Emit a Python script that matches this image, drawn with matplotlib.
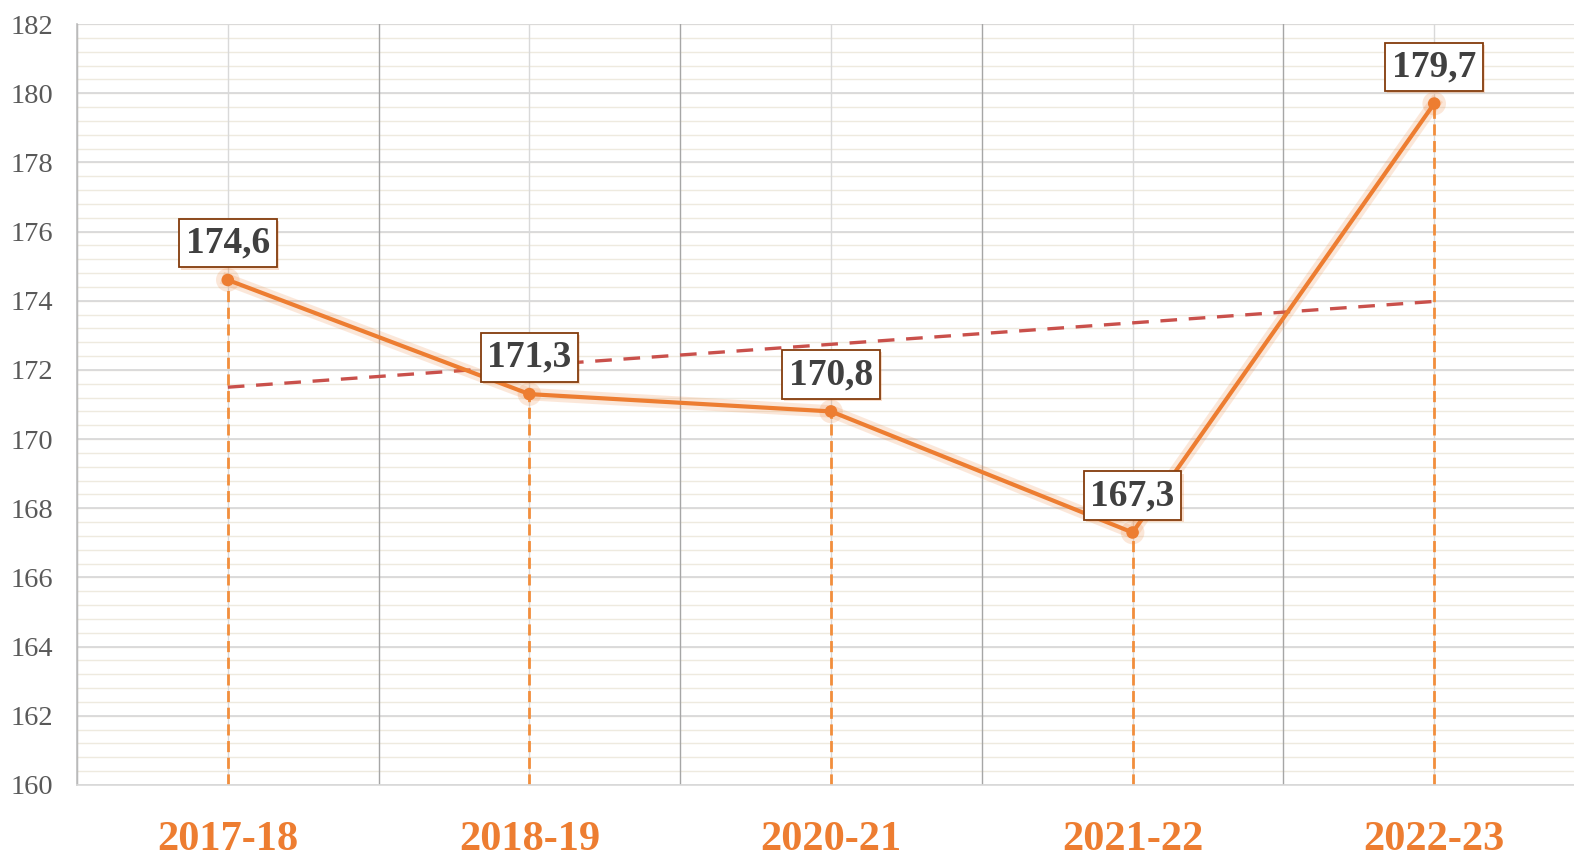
import matplotlib
matplotlib.use("Agg")
import matplotlib.pyplot as plt
import matplotlib.patheffects as pe
import numpy as np

categories = ["2017-18", "2018-19", "2020-21", "2021-22", "2022-23"]
values = [174.6, 171.3, 170.8, 167.3, 179.7]
labels = ["174,6", "171,3", "170,8", "167,3", "179,7"]
y_ticks = list(range(160, 183, 2))

ORANGE = "#ED7D31"
SERIF = ["Liberation Serif", "DejaVu Serif"]

W, H = 1574, 856
fig = plt.figure(figsize=(W / 100, H / 100), dpi=100)
left, right, top, bottom = 77, 1585, 24, 785
ax = fig.add_axes([left / W, 1 - bottom / H, (right - left) / W, (bottom - top) / H])

x = np.arange(len(categories))
ax.set_xlim(-0.5, len(categories) - 0.5)
ax.set_ylim(160, 182)

# minor horizontal grid
for yv in np.arange(160, 182.01, 0.4):
    ax.axhline(yv, color="#EEEADF", lw=1.0, zorder=0)
for yv in y_ticks:
    ax.axhline(yv, color="#D9D9D9", lw=1.3, zorder=0.5)
# vertical grid: centers lighter, boundaries darker
for xv in x:
    ax.axvline(xv, color="#D9D9D9", lw=1.0, zorder=0.6)
for xv in np.arange(-0.5, len(categories), 1.0):
    ax.axvline(xv, color="#A6A6A6", lw=1.0, zorder=0.7)

for s in ["top", "right"]:
    ax.spines[s].set_visible(False)
ax.spines["left"].set_color("#BFBFBF")
ax.spines["bottom"].set_color("#D9D9D9")
ax.spines["left"].set_linewidth(1.2)
ax.spines["bottom"].set_linewidth(1.2)

# drop lines
for xi, v in zip(x, values):
    ax.plot([xi, xi], [160, v], color="#F28E3C", lw=2.0, ls=(0, (4, 2)), zorder=2)

# trend line
k, b = np.polyfit(x, values, 1)
ax.plot([x[0], x[-1]], [b, k * x[-1] + b], color="#C9504B", lw=2.4,
        ls=(0, (5, 3.5)), zorder=3)

# main line
ax.plot(x, values, color=ORANGE, lw=3.0, marker="o", ms=8, zorder=4,
        path_effects=[pe.Stroke(linewidth=9, foreground=ORANGE, alpha=0.18), pe.Normal()])

for xi, v, lab in zip(x, values, labels):
    ax.annotate(lab, (xi, v), xytext=(0, 26.5), textcoords="offset points",
                ha="center", va="center", fontsize=27, fontweight="bold",
                family=SERIF, color="#404040", zorder=6,
                bbox=dict(boxstyle="square,pad=0.18", fc="white", ec="#843C0C", lw=1.3,
                          path_effects=[pe.SimplePatchShadow(offset=(1.5, -1.5), shadow_rgbFace=ORANGE, alpha=0.25),
                                        pe.Normal()]))

ax.set_yticks(y_ticks)
ax.set_yticklabels([str(t) for t in y_ticks], fontsize=20.5, family=SERIF, color="#595959")
ax.set_xticks(x)
ax.set_xticklabels(categories, fontsize=30.5, fontweight="bold", family=SERIF, color=ORANGE)
ax.tick_params(axis="y", length=0, pad=17)
ax.tick_params(axis="x", length=0, pad=26)

fig.savefig("out.png", dpi=100)
